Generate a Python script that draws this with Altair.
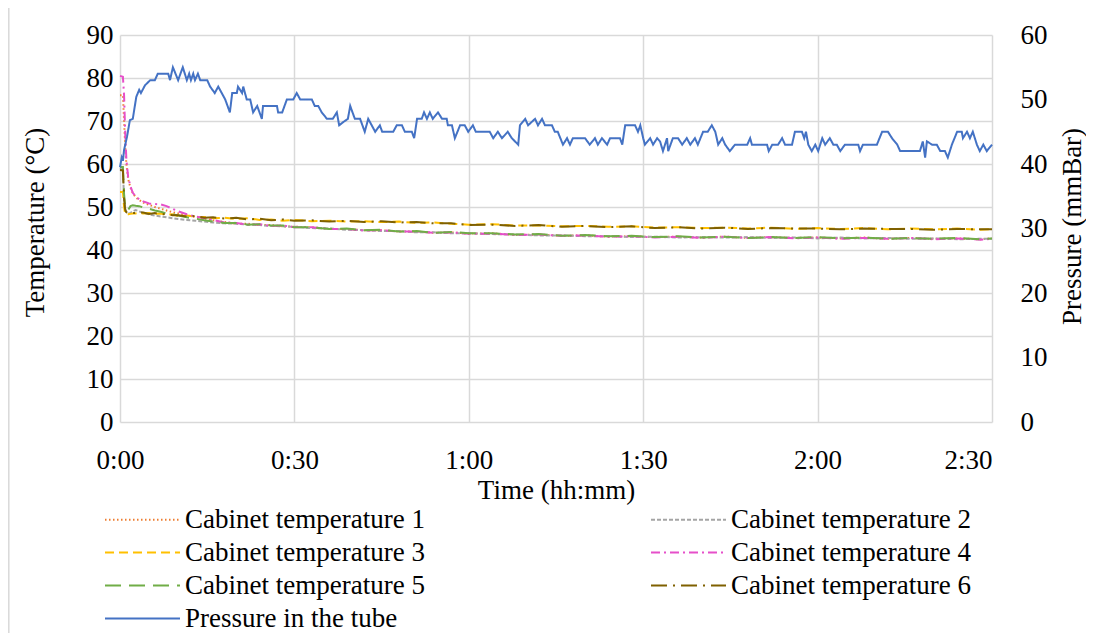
import altair as alt
import pandas as pd

# ---------------- data ----------------
SERIES = [
    "Cabinet temperature 1", "Cabinet temperature 2", "Cabinet temperature 3",
    "Cabinet temperature 4", "Cabinet temperature 5", "Cabinet temperature 6",
    "Pressure in the tube",
]
COLORS = ["#ED7D31", "#A5A5A5", "#FFC000", "#E64FC9", "#70AD47", "#7F6000", "#4472C4"]
DASHES = [[1.5, 2.5], [4, 2], [9, 5], [9, 4, 2, 4], [16, 8], [16, 6, 2, 6], [1, 0]]

X_TICKS = [0, 30, 60, 90, 120, 150]
Y_TEMP_TICKS = [0, 10, 20, 30, 40, 50, 60, 70, 80, 90]
Y_PRES_TICKS = [0, 10, 20, 30, 40, 50, 60]

# time in minutes for the temperature series
TIME_MIN = [0, 0.5, 0.7, 0.9, 1.1, 1.4, 1.8, 2.2, 2.7, 3.3,
            4, 5, 6, 7, 8, 9, 10, 11.5, 13, 14.5,
            16, 18, 20, 22, 24, 26, 28, 30, 33, 36,
            39, 42, 45, 48, 51, 54, 57, 60, 64, 68,
            72, 76, 80, 84, 88, 92, 96, 100, 104, 108,
            112, 116, 120, 124, 128, 132, 136, 140, 144, 148, 150]

T1 = [76.0, 76.0, 70.0, 64.0, 60.0, 56.5, 54.5, 53.2, 52.3, 51.6,
      51.0, 50.5, 50.0, 49.6, 49.2, 48.8, 48.5, 48.1, 47.7, 47.3, 46.9,
      46.5, 46.1, 46.1, 45.8, 45.8, 45.5, 45.4, 45.3, 44.9, 44.9,
      44.6, 44.6, 44.3, 44.3, 44.0, 44.1, 43.8, 43.9, 43.5, 43.6,
      43.3, 43.4, 43.1, 43.2, 43.0, 43.1, 42.9, 43.1, 42.8, 43.0,
      42.8, 42.9, 42.7, 42.9, 42.6, 42.8, 42.6, 42.7, 42.5, 42.7]
T2 = [59.0, 58.5, 52.0, 49.5, 48.8, 48.5, 48.6, 49.0, 49.3, 49.0,
      48.6, 48.3, 48.0, 47.8, 47.6, 47.4, 47.2, 47.0, 46.8, 46.6, 46.4,
      46.2, 46.1, 45.9, 45.8, 45.6, 45.5, 45.4, 45.1, 45.0, 44.7,
      44.6, 44.4, 44.4, 44.1, 44.1, 43.9, 43.9, 43.7, 43.6, 43.4,
      43.4, 43.2, 43.2, 43.0, 43.1, 42.9, 43.0, 42.9, 43.0, 42.8,
      42.9, 42.7, 42.9, 42.7, 42.8, 42.6, 42.7, 42.5, 42.6, 42.6]
T3 = [53.5, 53.5, 50.0, 48.3, 48.2, 48.3, 48.4, 48.5, 48.5, 48.6,
      48.5, 48.6, 48.4, 48.5, 48.2, 48.3, 47.9, 48.0, 47.7, 47.7,
      47.4, 47.5, 47.2, 47.4, 47.0, 47.1, 46.8, 47.0, 46.7, 46.8,
      46.6, 46.7, 46.5, 46.6, 46.3, 46.4, 46.1, 45.9, 46.0, 45.7,
      45.7, 45.5, 45.6, 45.4, 45.5, 45.2, 45.3, 45.1, 45.2, 45.0,
      45.2, 44.9, 45.1, 44.9, 45.1, 44.8, 45.0, 44.8, 45.0, 44.7, 44.9]
T4 = [80.5, 80.3, 76.0, 67.0, 61.0, 57.0, 54.8, 53.3, 52.5, 51.8,
      51.3, 50.8, 50.7, 50.6, 50.2, 49.6, 49.0, 48.3, 47.8, 47.4, 47.0,
      46.4, 46.3, 45.9, 46.0, 45.6, 45.7, 45.3, 45.3, 44.9, 44.9,
      44.5, 44.6, 44.3, 44.3, 44.0, 44.1, 43.8, 43.8, 43.5, 43.6,
      43.3, 43.4, 43.1, 43.2, 42.9, 43.1, 42.8, 43.1, 42.8, 43.0,
      42.7, 42.9, 42.6, 42.8, 42.6, 42.8, 42.5, 42.7, 42.4, 42.6]
T5 = [59.3, 59.3, 53.0, 50.0, 49.5, 49.3, 50.2, 50.4, 50.3, 50.2,
      49.9, 49.6, 49.2, 48.9, 48.5, 48.3, 48.0, 47.6, 47.3, 46.9, 46.6,
      46.3, 46.3, 45.9, 46.0, 45.7, 45.7, 45.3, 45.3, 44.9, 45.0,
      44.6, 44.7, 44.3, 44.4, 44.0, 44.2, 43.9, 43.9, 43.6, 43.7,
      43.3, 43.5, 43.2, 43.3, 43.0, 43.2, 42.9, 43.1, 42.8, 43.0,
      42.8, 43.0, 42.7, 42.9, 42.6, 42.8, 42.6, 42.8, 42.5, 42.7]
T6 = [58.6, 58.5, 52.0, 49.3, 48.8, 48.6, 48.7, 48.6, 48.6, 48.7,
      48.7, 48.4, 48.6, 48.3, 48.4, 48.1, 48.1, 47.8, 47.9, 47.5,
      47.6, 47.3, 47.5, 47.1, 47.3, 46.9, 47.1, 46.8, 46.9, 46.6,
      46.8, 46.5, 46.7, 46.4, 46.5, 46.2, 46.2, 45.8, 45.9, 45.6,
      45.8, 45.4, 45.6, 45.3, 45.5, 45.1, 45.3, 45.0, 45.2, 44.9,
      45.1, 45.0, 45.0, 44.8, 45.0, 44.9, 44.9, 44.7, 44.9, 44.8, 44.8]

PRESSURE_TIME = [
    0, 0.3, 0.5, 0.7, 1.2, 1.7, 2.2, 2.8, 3.3, 3.6,
    4.3, 5.2, 6.0, 6.5, 8.3, 8.6, 9.1, 10.0, 10.8, 11.5,
    11.9, 12.2, 12.6, 12.9, 13.4, 13.8, 15.0, 15.5, 16.3, 16.9,
    17.5, 18.1, 18.9, 19.3, 20.1, 20.3, 21.0, 21.2, 21.8, 22.4,
    22.9, 23.6, 24.4, 24.6, 25.5, 27.0, 27.2, 27.9, 28.7, 29.8,
    30.4, 31.0, 33.0, 33.5, 34.1, 34.7, 35.6, 36.6, 37.3, 37.7,
    38.4, 39.2, 39.6, 40.4, 41.3, 42.1, 42.7, 43.3, 43.9, 44.7,
    45.1, 47.0, 47.6, 48.5, 49.0, 50.2, 50.6, 51.1, 51.9, 52.3,
    52.8, 53.3, 53.8, 54.7, 55.4, 56.2, 56.4, 57.1, 57.6, 58.5,
    59.3, 59.9, 60.7, 61.2, 63.6, 64.2, 65.0, 65.7, 66.7, 67.4,
    68.5, 68.8, 69.7, 70.2, 71.4, 71.9, 72.6, 73.1, 74.3, 74.8,
    75.3, 76.2, 76.9, 77.4, 77.9, 80.0, 80.8, 81.7, 82.2, 82.9,
    83.8, 84.3, 86.0, 86.4, 86.9, 88.6, 89.1, 89.5, 90.0, 90.3,
    91.2, 91.7, 92.4, 92.9, 93.4, 94.1, 94.3, 95.1, 96.0, 96.7,
    97.5, 98.1, 98.9, 99.4, 100.3, 101.1, 101.8, 102.4, 102.9, 103.6,
    104.1, 104.9, 105.8, 107.9, 108.4, 108.7, 111.3, 111.6, 112.2, 113.2,
    113.9, 114.4, 115.6, 116.1, 117.3, 117.7, 118.0, 118.4, 119.0, 119.6,
    120.1, 120.8, 121.3, 122.1, 122.7, 123.3, 123.9, 124.7, 127.0, 127.3,
    127.8, 130.2, 131.1, 132.1, 132.8, 133.7, 134.2, 137.6, 138.1, 138.5,
    138.8, 139.7, 140.5, 141.1, 141.9, 142.4, 143.1, 144.0, 144.8, 145.0,
    145.7, 146.2, 146.7, 147.4, 147.9, 148.5, 149.1, 150.0,
]
PRESSURE_MBAR = [
    39.5, 41, 40.5, 42.2, 44.2, 46.8, 47, 50.4, 51.5, 51,
    52.2, 53, 53, 54, 54, 53, 55, 53, 55, 53,
    54, 53, 54, 53, 54, 53, 53, 52, 51, 52,
    51, 50, 48, 51, 51, 52, 51, 52, 50, 50,
    48, 49, 47, 49, 49, 49, 48, 48, 50, 50,
    51, 50, 50, 49, 49, 48, 47, 47, 48, 46,
    46.5, 47, 49, 47, 47, 45, 47, 46, 45, 46,
    45, 45, 46, 46, 45, 45, 44, 47, 47, 48,
    47, 48, 47, 48, 47, 47, 46, 46, 44, 46,
    46, 45, 46, 45, 45, 44, 45, 44, 45, 44,
    43, 46, 47, 46, 47, 46, 47, 46, 46, 45,
    45, 43, 44, 43, 44, 44, 43, 44, 43, 44,
    43, 44, 44, 43, 46, 46, 45, 46, 44, 43,
    44, 43, 44, 43.5, 42, 44, 42, 44, 44, 43,
    44, 43, 44, 43, 45, 45, 46, 45, 43, 44,
    43, 42, 43, 43, 44, 43, 43, 42, 43, 43,
    44, 43, 43, 45, 45, 44, 45, 43, 42, 43,
    42, 44, 43, 44, 43, 43, 42, 43, 43, 42,
    43, 43, 45, 45, 44, 43, 42, 42, 43.5, 41,
    43.5, 43, 43, 42, 42, 41, 43, 45, 45, 44,
    45, 44, 45, 43, 42, 43, 42, 43,
]

# ---------------- tables ----------------
rows = []
for name, vals in zip(SERIES[:6], [T1, T2, T3, T4, T5, T6]):
    for t, v in zip(TIME_MIN, vals):
        rows.append({"t": t, "v": v, "series": name})
temp_df = pd.DataFrame(rows)
pres_df = pd.DataFrame({"t": PRESSURE_TIME, "v": PRESSURE_MBAR,
                        "series": SERIES[6]})

FONT = "Liberation Serif"
FS = 27

# legend sample: a long horizontal stroke drawn to the right of a small symbol box
legend = alt.Legend(
    title=None, orient="none", legendX=-21, legendY=471, columns=2,
    direction="horizontal",
    columnPadding=220, rowPadding=5, symbolType="M-1,0H9", symbolSize=225,
    symbolStrokeWidth=2, labelFont=FONT, labelFontSize=FS, labelColor="#000000",
    labelOffset=59, labelLimit=500, padding=0,
)
color = alt.Color("series:N", scale=alt.Scale(domain=SERIES, range=COLORS), legend=legend)
dash = alt.StrokeDash("series:N", scale=alt.Scale(domain=SERIES, range=DASHES), legend=legend)

x_enc = alt.X(
    "t:Q",
    scale=alt.Scale(domain=[0, 150], nice=False, zero=False),
    axis=alt.Axis(
        values=X_TICKS,
        labelExpr="floor(datum.value/60) + ':' + (datum.value % 60 < 10 ? '0' : '') + (datum.value % 60)",
        labelFlush=False,
        labelAlign={"expr": "datum.value == 150 ? 'right' : 'center'"},
        title="Time (hh:mm)", grid=True, labelPadding=38, labelBaseline="middle",
        titleY=68, titleBaseline="middle",
    ),
)

temp = alt.Chart(temp_df).mark_line(strokeWidth=2).encode(
    x=x_enc,
    y=alt.Y("v:Q", scale=alt.Scale(domain=[0, 90], nice=False),
            axis=alt.Axis(values=Y_TEMP_TICKS, title="Temperature (°C)", grid=True,
                          labelPadding=7, titleX=-85, titleY=187,
                          titleBaseline="middle", titleAngle=270)),
    color=color,
    strokeDash=dash,
    detail="series:N",
)

pres = alt.Chart(pres_df).mark_line(strokeWidth=2).encode(
    x=x_enc,
    y=alt.Y("v:Q", scale=alt.Scale(domain=[0, 60], nice=False),
            axis=alt.Axis(values=Y_PRES_TICKS, title="Pressure (mmBar)", orient="right",
                          grid=False, labelPadding=28, titleX=80, titleY=191,
                          titleBaseline="middle", titleAngle=270)),
    color=color,
    strokeDash=dash,
)

# light outer chart-area frame on the left edge
frame = alt.Chart(pd.DataFrame({"k": [0]})).mark_rule(
    color="#D9D9D9", strokeWidth=1.5
).encode(x=alt.value(-111.2), y=alt.value(-27), y2=alt.value(610))

chart = (
    alt.layer(frame, temp, pres)
    .resolve_scale(y="independent")
    .properties(
        width=872, height=387,
        padding={"left": 112, "top": 27, "right": 94, "bottom": 212},
        autosize=alt.AutoSizeParams(type="none"),
        background="#ffffff",
    )
    .configure_view(stroke=None)
    .configure_axis(
        labelFont=FONT, labelFontSize=FS, labelColor="#000000",
        titleFont=FONT, titleFontSize=FS, titleColor="#000000", titleFontWeight="normal",
        domain=False, ticks=False, tickSize=0,
        gridColor="#D9D9D9", gridWidth=1.5,
    )
)

chart.save("out.html", embed_options={"renderer": "svg", "actions": False})
